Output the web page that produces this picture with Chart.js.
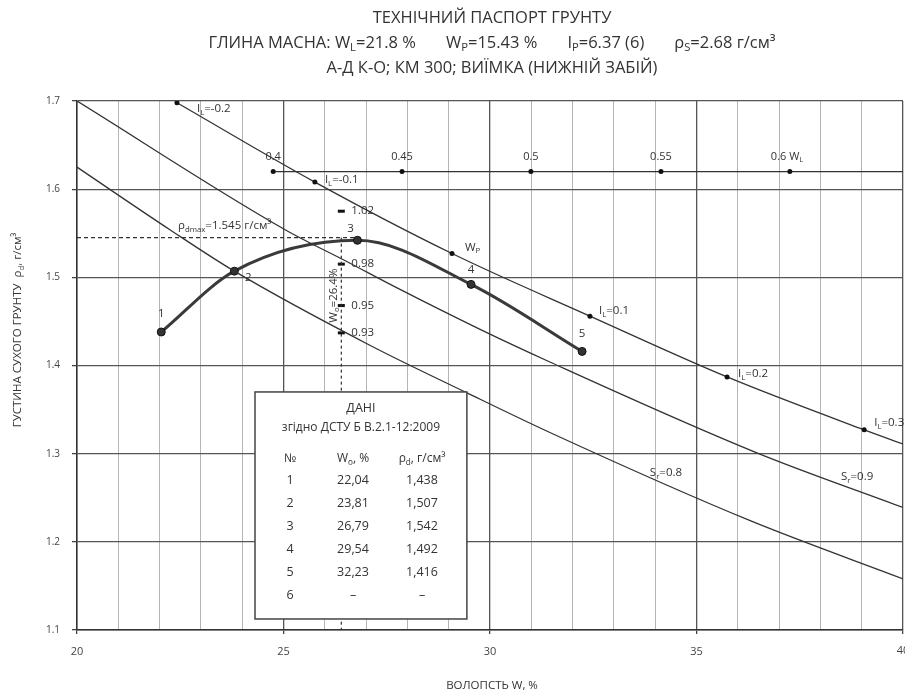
<!DOCTYPE html>
<html><head><meta charset="utf-8">
<script src="https://cdn.jsdelivr.net/npm/chart.js@4.4.1/dist/chart.umd.min.js"></script>
<style>html,body{margin:0;padding:0;background:#fff;} #wrap{width:905px;height:692px;position:relative;}</style>
</head><body><div id="wrap"><canvas id="c" width="905" height="692"></canvas></div>
<script>
// ---- data ----
const compW = [22.04, 23.81, 26.79, 29.54, 32.23];
const compRho = [1.438, 1.507, 1.542, 1.492, 1.416];
const pointNo = ['1', '2', '3', '4', '5'];

const sr09W = [20, 25.04, 26.53, 27.75, 29.76, 31.45, 36.46, 40];
const sr09Rho = [1.700, 1.554, 1.518, 1.488, 1.441, 1.404, 1.301, 1.239];
const sr08W = [20, 22.25, 23.81, 27.09, 29.44, 31.45, 36.3, 40];
const sr08Rho = [1.625, 1.554, 1.507, 1.423, 1.369, 1.324, 1.224, 1.158];

const ilW = [22.42, 25.76, 29.08, 32.42, 35.74, 39.06, 40];
const ilRho = [1.698, 1.608, 1.527, 1.456, 1.387, 1.327, 1.311];
const ilLabels = ['-0.2', '-0.1', 'Wp', '0.1', '0.2', '0.3'];

const relW = [24.75, 27.87, 30.99, 34.14, 37.26, 40];
const relRho = [1.62, 1.62, 1.62, 1.62, 1.62, 1.62];
const relLabels = ['0.4', '0.45', '0.5', '0.55', '0.6'];

const rhoDmax = 1.545;
const w0 = 26.4;
const kRho = [1.575, 1.515, 1.468, 1.437];
const kLabels = ['1.02', '0.98', '0.95', '0.93'];

const tableNo = ['1', '2', '3', '4', '5', '6'];
const tableW = ['22,04', '23,81', '26,79', '29,54', '32,23', '–'];
const tableRho = ['1,438', '1,507', '1,542', '1,492', '1,416', '–'];

const xMin = 20, xMax = 40, yMin = 1.1, yMax = 1.7;

// ---- helpers ----
const FONT = "'Open Sans', 'Noto Sans', sans-serif";
const INK = '#333';
function rich(ctx, x, y, segs, size, align) {
  let w = 0;
  const parts = segs.map(([t, k]) => {
    const s = k === 'n' ? size : size * 0.68;
    ctx.font = s + 'px ' + FONT;
    const m = ctx.measureText(t).width; w += m;
    return { t, k, s, m };
  });
  let sx = align === 'center' ? x - w / 2 : (align === 'right' ? x - w : x);
  ctx.textBaseline = 'middle'; ctx.textAlign = 'left';
  parts.forEach(p => {
    ctx.font = p.s + 'px ' + FONT;
    const dy = p.k === 'sub' ? size * 0.32 : (p.k === 'sup' ? -size * 0.32 : 0);
    ctx.fillText(p.t, sx, y + dy);
    sx += p.m;
  });
  return w;
}
const pts = (xs, ys) => xs.map((x, i) => ({ x: x, y: ys[i] }));

const textPlugin = {
  id: 'texts',
  afterDatasetsDraw(chart) {
    const ctx = chart.ctx, X = chart.scales.x, Y = chart.scales.y;
    const px = v => X.getPixelForValue(v), py = v => Y.getPixelForValue(v);
    ctx.save();
    ctx.fillStyle = INK;

    // Titles
    const cx = (chart.chartArea.left + chart.chartArea.right) / 2 + 2;
    const G = '       ';
    rich(ctx, cx, 18, [['ТЕХНІЧНИЙ ПАСПОРТ ГРУНТУ', 'n']], 16.5, 'center');
    rich(ctx, cx, 43, [['ГЛИНА МАСНА: W', 'n'], ['L', 'sub'], ['=21.8 %' + G + 'W', 'n'], ['P', 'sub'],
      ['=15.43 %' + G + 'I', 'n'], ['P', 'sub'], ['=6.37 (6)' + G + 'ρ', 'n'], ['S', 'sub'], ['=2.68 г/см³', 'n']], 16.5, 'center');
    rich(ctx, cx, 68, [['А-Д К-О; КМ 300; ВИЇМКА (НИЖНІЙ ЗАБІЙ)', 'n']], 16.5, 'center');

    // last x tick label (partly outside the canvas, as in the reference)
    ctx.fillStyle = '#444';
    rich(ctx, px(xMax), chart.chartArea.bottom + 21, [[String(xMax), 'n']], 11, 'center');
    ctx.fillStyle = INK;

    // Axis titles
    rich(ctx, cx, 686, [['ВОЛОПСТЬ W, %', 'n']], 11.5, 'center');
    ctx.save(); ctx.translate(18, 330); ctx.rotate(-Math.PI / 2);
    rich(ctx, 0, 0, [['ГУСТИНА СУХОГО ГРУНТУ  ρ', 'n'], ['d', 'sub'], [', г/см³', 'n']], 11.5, 'center');
    ctx.restore();

    // Il labels
    const ilOff = [[20, 6], [10, -2], [13, -6], [9, -5], [11, -3], [10, -7]];
    ilLabels.forEach((l, i) => {
      const x = px(ilW[i]) + ilOff[i][0], y = py(ilRho[i]) + ilOff[i][1];
      if (l === 'Wp') rich(ctx, x, y, [['W', 'n'], ['P', 'sub']], 11.5, 'left');
      else rich(ctx, x, y, [['I', 'n'], ['L', 'sub'], ['=' + l, 'n']], 11.5, 'left');
    });
    // W/WL labels
    relLabels.forEach((l, i) => {
      const x = px(relW[i]), y = py(relRho[i]) - 15;
      if (i === relLabels.length - 1) rich(ctx, x - 19, y, [[l + ' W', 'n'], ['L', 'sub']], 11, 'left');
      else rich(ctx, x, y, [[l, 'n']], 11, 'center');
    });
    // point numbers
    const pOff = [[0, -18], [14, 7], [-7, -12], [0, -15], [0, -18]];
    pointNo.forEach((l, i) => {
      rich(ctx, px(compW[i]) + pOff[i][0], py(compRho[i]) + pOff[i][1], [[l, 'n']], 11.5, 'center');
    });
    // K labels
    kLabels.forEach((l, i) => rich(ctx, px(w0) + 10, py(kRho[i]), [[l, 'n']], 11.5, 'left'));
    // rho dmax label
    rich(ctx, px(xMin) + 101, py(rhoDmax) - 12, [['ρ', 'n'], ['dmax', 'sub'], ['=1.545 г/см³', 'n']], 11.5, 'left');
    // W0 vertical label
    ctx.save(); ctx.translate(px(w0) - 8, py(rhoDmax) + 58); ctx.rotate(-Math.PI / 2);
    rich(ctx, 0, 0, [['W', 'n'], ['o', 'sub'], ['=26.4%', 'n']], 11.5, 'center');
    ctx.restore();
    // Sr labels
    rich(ctx, px(33.87), py(1.278), [['S', 'n'], ['r', 'sub'], ['=0.8', 'n']], 11.5, 'left');
    rich(ctx, px(38.5), py(1.2735), [['S', 'n'], ['r', 'sub'], ['=0.9', 'n']], 11.5, 'left');

    // Table
    const L = px(24.31), R = px(29.44), T = py(1.370), B = py(1.1125);
    ctx.fillStyle = '#fff'; ctx.fillRect(L, T, R - L, B - T);
    ctx.strokeStyle = '#444'; ctx.lineWidth = 1.5; ctx.strokeRect(L, T, R - L, B - T);
    ctx.fillStyle = INK;
    const mid = (L + R) / 2;
    rich(ctx, mid, T + 16, [['ДАНІ', 'n']], 12.5, 'center');
    rich(ctx, mid, T + 36, [['згідно ДСТУ Б В.2.1-12:2009', 'n']], 12, 'center');
    const c1 = L + 35, c2 = L + 98, c3 = L + 167;
    rich(ctx, c1, T + 67, [['№', 'n']], 12, 'center');
    rich(ctx, c2, T + 67, [['W', 'n'], ['o', 'sub'], [', %', 'n']], 12, 'center');
    rich(ctx, c3, T + 67, [['ρ', 'n'], ['d', 'sub'], [', г/см³', 'n']], 12, 'center');
    tableNo.forEach((n, i) => {
      const y = T + 88 + i * 23;
      rich(ctx, c1, y, [[n, 'n']], 12.5, 'center');
      rich(ctx, c2, y, [[tableW[i], 'n']], 12.5, 'center');
      rich(ctx, c3, y, [[tableRho[i], 'n']], 12.5, 'center');
    });
    ctx.restore();
  }
};

const thin = { showLine: true, borderColor: INK, borderWidth: 1.3, pointRadius: 0, cubicInterpolationMode: 'monotone', fill: false };
new Chart(document.getElementById('c'), {
  type: 'scatter',
  data: {
    datasets: [
      Object.assign({ label: 'Sr=0.8', data: pts(sr08W, sr08Rho) }, thin),
      Object.assign({ label: 'Sr=0.9', data: pts(sr09W, sr09Rho) }, thin),
      Object.assign({}, thin, { label: 'IL', data: pts(ilW, ilRho),
        pointRadius: ilW.map((v, i) => i < ilLabels.length ? 2.5 : 0), pointBackgroundColor: '#111', pointBorderWidth: 0 }),
      Object.assign({}, thin, { label: 'W/WL', data: pts(relW, relRho), cubicInterpolationMode: 'default', tension: 0,
        pointRadius: relW.map((v, i) => i < relLabels.length ? 2.5 : 0), pointBackgroundColor: '#111', pointBorderWidth: 0 }),
      Object.assign({}, thin, { label: 'rhoDmax', cubicInterpolationMode: 'default', tension: 0, borderDash: [4, 3], borderWidth: 1.2,
        data: [{ x: xMin, y: rhoDmax }, { x: compW[2], y: rhoDmax }] }),
      Object.assign({}, thin, { label: 'W0', cubicInterpolationMode: 'default', tension: 0, borderDash: [3, 3], borderWidth: 1.2,
        data: [{ x: w0, y: rhoDmax }, { x: w0, y: yMin }] }),
      { label: 'K', showLine: false, data: kRho.map(r => ({ x: w0, y: r })), pointStyle: 'line',
        pointRadius: 3.5, borderColor: '#111', borderWidth: 3 },
      { label: 'compaction', showLine: true, data: pts(compW, compRho), borderColor: '#3a3a3a', borderWidth: 3,
        cubicInterpolationMode: 'monotone', pointRadius: 4, pointBackgroundColor: '#333', pointBorderColor: '#111', pointBorderWidth: 1 }
    ]
  },
  options: {
    responsive: false, animation: false,
    layout: { autoPadding: false, padding: { top: 101, right: 2, left: 0, bottom: 0 } },
    plugins: { legend: { display: false }, tooltip: { enabled: false } },
    scales: {
      x: {
        type: 'linear', min: xMin, max: xMax,
        afterFit: s => { s.height = 62; s.paddingRight = 0; s.paddingLeft = 0; },
        ticks: { stepSize: 1, autoSkip: false, maxRotation: 0, padding: 11, color: '#444',
          font: { family: FONT, size: 11 }, callback: v => (v % 5 === 0 && v < xMax ? String(v) : '') },
        grid: { color: c => (c.tick && c.tick.value % 5 === 0 ? '#555' : '#b5b5b5'),
          lineWidth: c => (c.tick && c.tick.value % 5 === 0 ? 1.3 : 1),
          tickLength: 4, tickColor: c => (c.tick && c.tick.value % 5 === 0 ? '#444' : 'rgba(0,0,0,0)') },
        border: { display: true, color: '#333', width: 1.5 }
      },
      y: {
        type: 'linear', min: yMin, max: yMax,
        afterFit: s => { s.width = 77; s.paddingTop = 0; s.paddingBottom = 0; },
        ticks: { stepSize: 0.1, padding: 12, color: '#444', font: { family: FONT, size: 10 },
          callback: v => v.toFixed(1) },
        grid: { color: '#555', lineWidth: 1.3, tickLength: 5, tickColor: '#444' },
        border: { display: true, color: '#333', width: 1.5 }
      }
    }
  },
  plugins: [textPlugin]
});
</script>
</body></html>
